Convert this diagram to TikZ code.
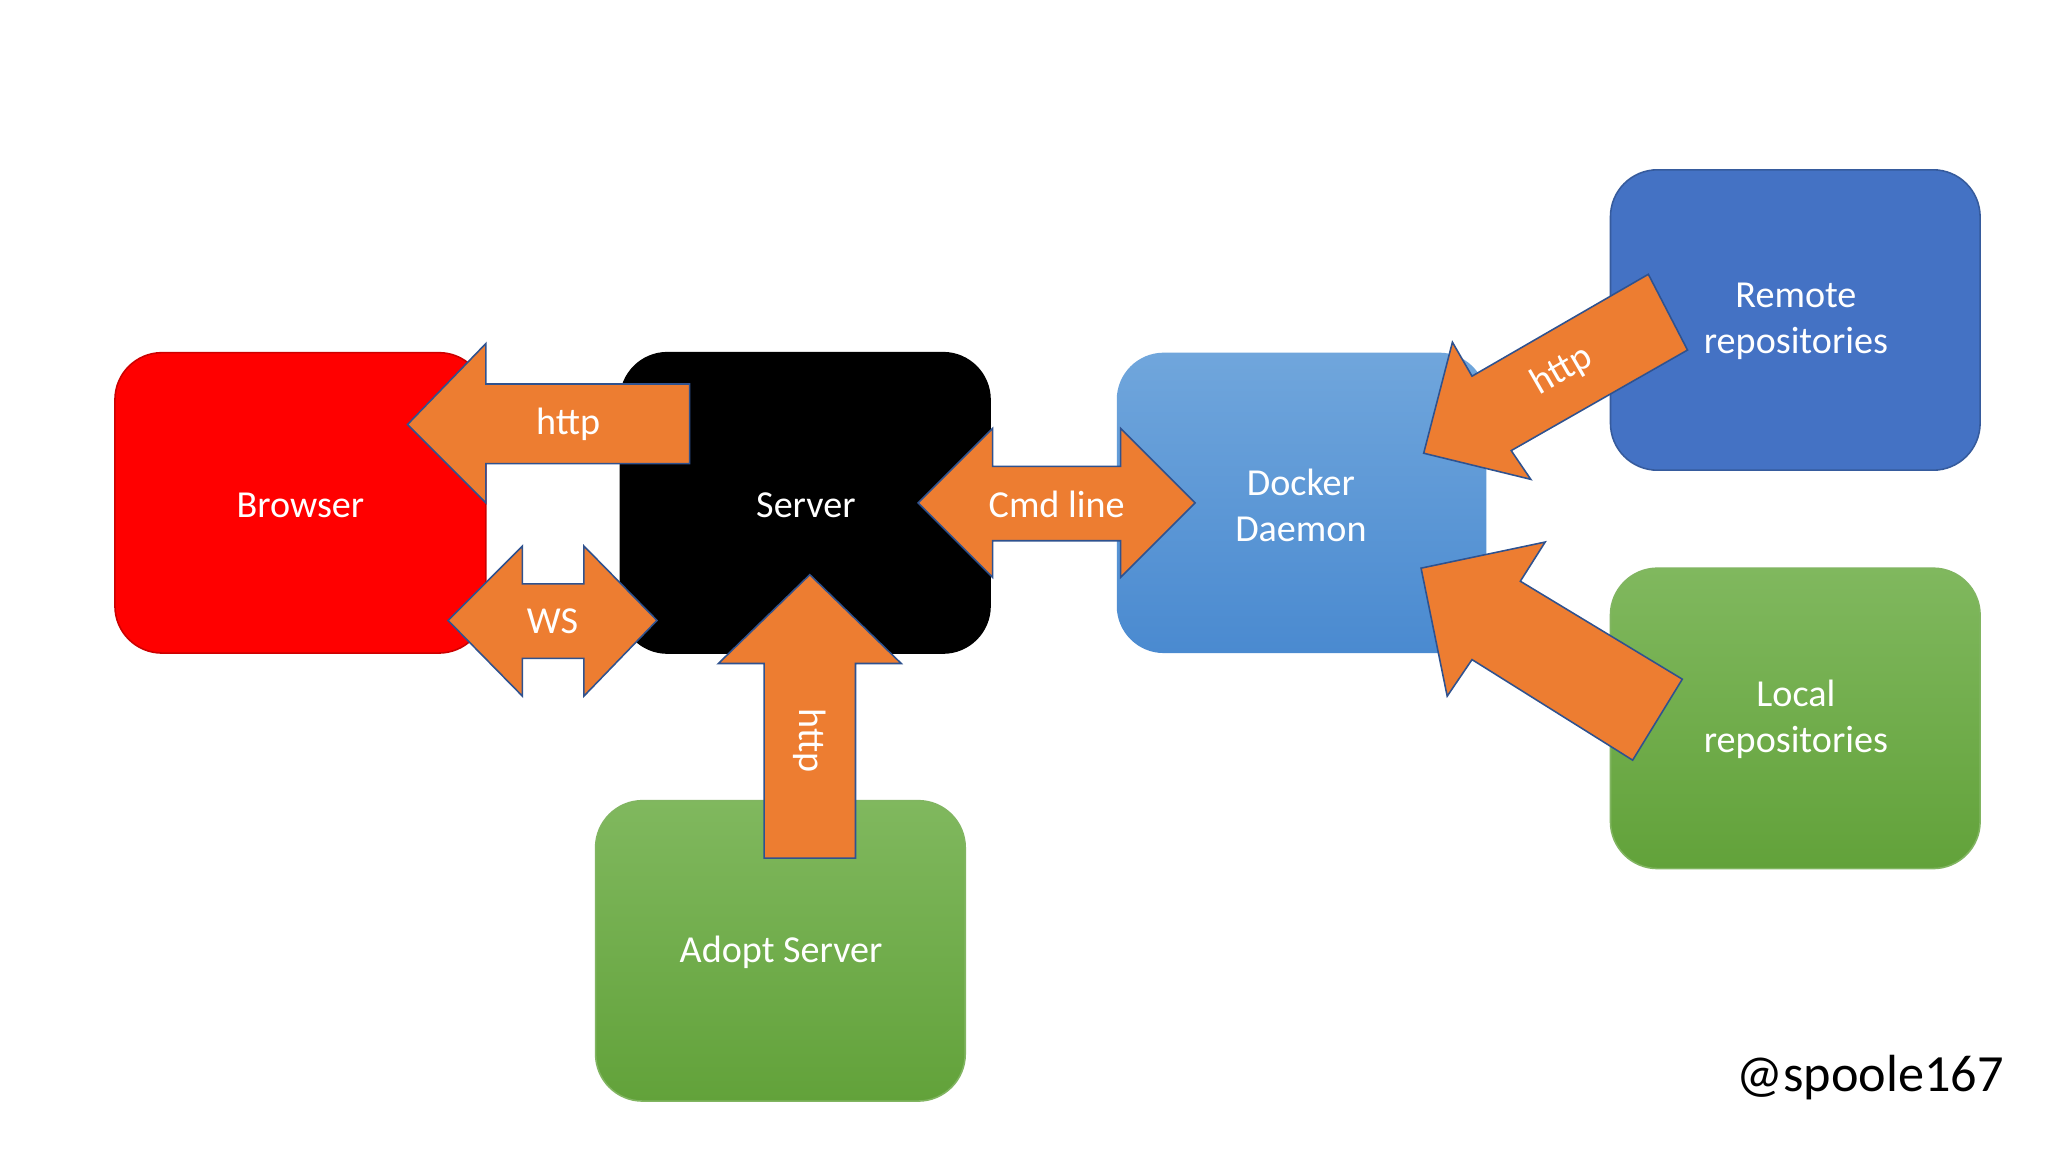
\documentclass[tikz,border=0pt]{standalone}
\usepackage{fontspec}
\setmainfont{Carlito}
\begin{document}
\begin{tikzpicture}[x=0.5pt,y=-0.5pt,
 box/.style={rounded corners=18pt,draw=#1!80!black,line width=0.6pt},
 lbl/.style={text=white,font=\fontsize{14.6}{17.5}\selectfont,align=center},
 arr/.style={fill=arrowc,draw=arrowb,line width=0.6pt,line join=miter}]
\definecolor{arrowc}{HTML}{ED7D31}
\definecolor{arrowb}{HTML}{2F528F}
\definecolor{gtop}{HTML}{80B85E}\definecolor{gbot}{HTML}{62A23A}
\definecolor{btop}{HTML}{70A6DC}\definecolor{bbot}{HTML}{4A8AD0}
\definecolor{rblue}{HTML}{4472C4}
\useasboundingbox (0,0) rectangle (1568,882);
\fill[white] (0,0) rectangle (1568,882);
% boxes
\draw[box=red,fill=red] (88,270) rectangle (372,500);
\node[lbl] (browser) at (230,387) {Browser};
\draw[box=black,fill=black] (475,270) rectangle (758,500);
\node[lbl] (server) at (617,387) {Server};
\draw[rounded corners=18pt,top color=btop,bottom color=bbot,draw=none] (855,270) rectangle (1138,500);
\node[lbl] (docker) at (996,387) {Docker\\Daemon};
\draw[box=rblue,fill=rblue] (1233,130) rectangle (1516,360);
\node[lbl] (remote) at (1375,246) {Remote\\repositories};
\draw[rounded corners=18pt,top color=gtop,bottom color=gbot,draw=gbot!80!white,line width=0.6pt] (1233,435) rectangle (1516,665);
\node[lbl] (local) at (1375,551) {Local\\repositories};
\draw[rounded corners=18pt,top color=gtop,bottom color=gbot,draw=gbot!80!white,line width=0.6pt] (456,613) rectangle (739,843);
\node[lbl] (adopt) at (598,729) {Adopt Server};
% arrows
\draw[arr] (312,325) -- (372,263) -- (372,294) -- (528,294) -- (528,355) -- (372,355) -- (372,385) -- cycle;
\node[lbl] (h1) at (435,325) {http};
\draw[arr] (343,475) -- (400,418) -- (400,447) -- (447,447) -- (447,418) -- (503,475) -- (447,533) -- (447,504) -- (400,504) -- (400,533) -- cycle;
\node[lbl] (ws) at (423,476) {WS};
\draw[arr] (703,385) -- (760,328) -- (760,357) -- (858,357) -- (858,328) -- (915,385) -- (858,442) -- (858,414) -- (760,414) -- (760,442) -- cycle;
\node[lbl] (cmd) at (809,386) {Cmd line};
\draw[arr] (620,440) -- (690,508) -- (655,508) -- (655,657) -- (585,657) -- (585,508) -- (550,508) -- cycle;
\node[lbl,rotate=-90] (h2) at (620,567) {http};
\draw[arr] (1090,347) -- (1112,262) -- (1127,288) -- (1262,210) -- (1292,268) -- (1157,345) -- (1172,367) -- cycle;
\node[lbl,rotate=30,inner sep=0pt] (h3) at (1196,284) {http};
\draw[arr] (1088,435) -- (1183,415) -- (1164,445) -- (1288,520) -- (1250,582) -- (1127,505) -- (1108,533) -- cycle;
\node[font=\fontsize{20}{24}\selectfont] (tw) at (1432,825) {@spoole167};
\end{tikzpicture}
\end{document}
